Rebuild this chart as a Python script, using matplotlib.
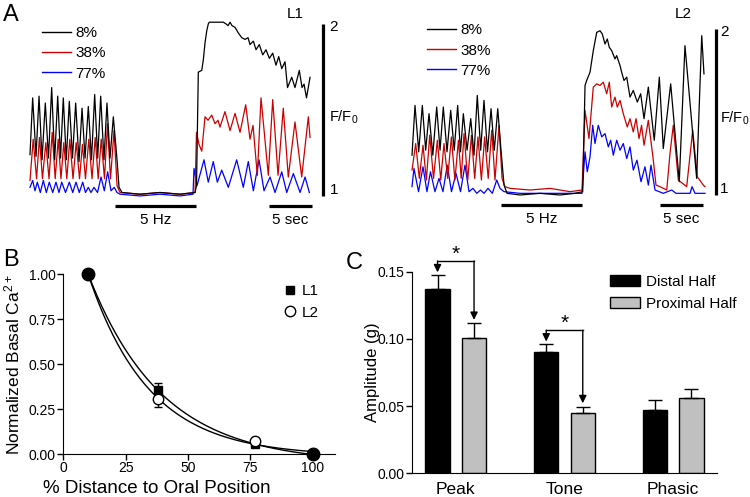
import numpy as np
import matplotlib
matplotlib.use("Agg")
import matplotlib.pyplot as plt
from matplotlib.lines import Line2D

plt.rcParams['font.family'] = ['Liberation Sans', 'DejaVu Sans']
plt.rcParams['mathtext.default'] = 'regular'
plt.rcParams['font.size'] = 10

RED = '#cc0000'
BLUE = '#0000ff'
GRAY = '#c0c0c0'

# --- Panel A: Ca2+ traces (time in s, F/F0) ---
# L1
l1_8_t = [0.00, 0.31, 0.70, 1.05, 1.40, 1.78, 2.15, 2.52, 2.87, 3.22, 3.55, 3.87, 4.22, 4.57, 4.94,
          5.31, 5.70, 6.05, 6.40, 6.78, 7.15, 7.52, 7.87, 8.22, 8.60, 8.95, 9.30, 9.69, 10.12, 10.35,
          10.70, 12.79, 15.12, 17.44, 19.19, 19.36, 19.57, 19.97, 20.15, 20.35, 20.55, 20.73, 20.85,
          22.48, 22.79, 23.02, 23.26, 23.49, 23.84, 24.19, 24.62, 25.00, 25.35, 25.58, 25.97, 26.28,
          26.66, 27.06, 27.44, 27.83, 28.22, 28.60, 28.92, 29.27, 29.65, 29.94, 30.43, 30.81, 31.31,
          31.63, 31.86, 32.15, 32.56]
l1_8_f = [1.24, 1.57, 1.23, 1.58, 1.21, 1.54, 1.22, 1.63, 1.21, 1.58, 1.22, 1.57, 1.21, 1.55, 1.22,
          1.54, 1.20, 1.51, 1.22, 1.52, 1.21, 1.59, 1.22, 1.58, 1.21, 1.54, 1.22, 1.46, 1.21, 1.05,
          1.02, 1.01, 1.02, 1.01, 1.02, 1.06, 1.72, 1.73, 1.79, 1.89, 1.96, 2.00, 2.01,
          2.01, 2.00, 1.99, 2.01, 1.99, 1.98, 1.95, 1.92, 1.91, 1.92, 1.88, 1.90, 1.85,
          1.88, 1.82, 1.85, 1.80, 1.83, 1.76, 1.81, 1.74, 1.78, 1.63, 1.69, 1.63, 1.73,
          1.63, 1.65, 1.57, 1.69]
l1_38_t = [0.00, 0.37, 0.76, 1.10, 1.45, 1.84, 2.21, 2.58, 2.93, 3.28, 3.60, 3.93, 4.28, 4.63, 5.00,
           5.37, 5.76, 6.10, 6.45, 6.84, 7.21, 7.58, 7.93, 8.28, 8.66, 9.01, 9.36, 9.77, 10.12, 10.47,
           12.79, 15.12, 17.44, 19.19, 19.36, 19.65, 19.97, 20.35, 20.70, 21.13, 21.51, 21.86, 22.09,
           22.67, 23.26, 23.84, 24.42, 25.08, 25.58, 25.93, 26.43, 26.86, 27.71, 28.22, 28.84, 29.45,
           30.03, 30.81, 31.59, 32.36, 32.56]
l1_38_f = [1.09, 1.33, 1.10, 1.34, 1.10, 1.31, 1.10, 1.37, 1.10, 1.33, 1.10, 1.31, 1.10, 1.33, 1.10,
           1.31, 1.10, 1.30, 1.10, 1.33, 1.10, 1.34, 1.10, 1.33, 1.10, 1.42, 1.10, 1.38, 1.06, 1.02,
           1.01, 1.02, 1.01, 1.02, 1.37, 1.30, 1.26, 1.46, 1.44, 1.47, 1.42, 1.44, 1.40,
           1.49, 1.38, 1.48, 1.37, 1.53, 1.33, 1.41, 1.12, 1.57, 1.12, 1.56, 1.12, 1.51,
           1.11, 1.43, 1.11, 1.46, 1.34]
l1_77_t = [0.00, 0.31, 0.58, 0.85, 1.20, 1.55, 1.90, 2.24, 2.64, 3.02, 3.37, 3.69, 4.13, 4.57, 4.97,
           5.35, 5.73, 6.13, 6.45, 6.78, 7.09, 7.44, 7.85, 8.26, 8.64, 9.03, 9.42, 9.80, 10.12, 10.47,
           12.79, 15.12, 17.44, 18.95, 19.07, 19.42, 20.23, 20.73, 21.31, 21.78, 22.29, 23.06, 24.03,
           24.80, 25.38, 25.97, 26.63, 27.21, 27.91, 28.49, 29.27, 29.85, 30.62, 31.40, 31.98, 32.48]
l1_77_f = [1.05, 1.09, 1.03, 1.08, 1.02, 1.09, 1.02, 1.08, 1.02, 1.08, 1.02, 1.08, 1.02, 1.08, 1.02,
           1.08, 1.02, 1.08, 1.02, 1.05, 1.02, 1.05, 1.02, 1.11, 1.03, 1.14, 1.03, 1.05, 1.02, 1.01,
           1.00, 1.01, 1.00, 1.01, 1.16, 1.06, 1.21, 1.08, 1.20, 1.08, 1.15, 1.05, 1.21,
           1.05, 1.20, 1.03, 1.21, 1.03, 1.11, 1.02, 1.14, 1.02, 1.13, 1.02, 1.11, 1.02]
# L2
l2_8_t = [0.00, 0.35, 0.78, 1.20, 1.59, 1.98, 2.42, 2.87, 3.26, 3.64, 4.07, 4.50, 4.91, 5.31, 5.64,
          5.97, 6.40, 6.83, 7.21, 7.59, 7.99, 8.37, 8.78, 9.19, 9.57, 9.97, 10.35, 10.70, 11.05, 12.56,
          14.88, 17.21, 18.95, 19.85, 20.12, 20.31, 20.70, 21.08, 21.48, 21.86, 22.13, 22.44, 22.71,
          22.94, 23.22, 23.60, 23.80, 24.19, 24.38, 24.65, 24.97, 25.35, 25.73, 26.20, 26.59, 26.98,
          27.48, 28.17, 28.76, 29.22, 30.08, 31.08, 31.74, 33.10, 33.69, 33.95]
l2_8_f = [1.24, 1.54, 1.26, 1.54, 1.27, 1.49, 1.24, 1.53, 1.27, 1.53, 1.26, 1.51, 1.27, 1.54, 1.26,
          1.49, 1.27, 1.46, 1.24, 1.60, 1.27, 1.57, 1.26, 1.52, 1.27, 1.52, 1.27, 1.06, 1.01, 1.00,
          1.01, 1.00, 1.01, 1.02, 1.66, 1.69, 1.74, 1.87, 1.98, 1.99, 1.97, 1.91, 1.94,
          1.89, 1.87, 1.82, 1.84, 1.78, 1.74, 1.69, 1.71, 1.59, 1.63, 1.56, 1.61, 1.46,
          1.65, 1.33, 1.71, 1.28, 1.67, 1.08, 1.90, 1.10, 1.96, 1.73]
l2_38_t = [0.00, 0.43, 0.85, 1.28, 1.67, 2.06, 2.50, 2.95, 3.34, 3.72, 4.15, 4.58, 4.99, 5.40, 5.72,
           6.05, 6.48, 6.91, 7.29, 7.67, 8.07, 8.45, 8.86, 9.27, 9.65, 10.12, 10.47, 10.81, 11.40, 13.72,
           16.05, 18.37, 19.77, 20.12, 20.58, 21.08, 21.48, 21.86, 22.24, 22.64, 22.94, 23.22, 23.60,
           23.87, 24.19, 24.57, 25.03, 25.35, 25.73, 26.05, 26.40, 26.69, 26.98, 27.48, 28.06, 28.37,
           28.84, 29.62, 30.00, 30.38, 30.97, 31.94, 32.64, 33.17, 33.87, 34.07]
l2_38_f = [1.15, 1.31, 1.10, 1.30, 1.09, 1.36, 1.10, 1.33, 1.09, 1.31, 1.10, 1.35, 1.09, 1.33, 1.10,
           1.37, 1.09, 1.36, 1.10, 1.35, 1.09, 1.35, 1.10, 1.39, 1.09, 1.42, 1.10, 1.05, 1.04, 1.03,
           1.04, 1.02, 1.03, 1.51, 1.34, 1.65, 1.67, 1.66, 1.68, 1.61, 1.68, 1.53, 1.59,
           1.53, 1.57, 1.49, 1.41, 1.46, 1.38, 1.46, 1.34, 1.42, 1.30, 1.45, 1.21, 1.06,
           1.05, 1.03, 1.25, 1.42, 1.09, 1.05, 1.39, 1.11, 1.06, 1.05]
l2_77_t = [0.00, 0.23, 0.76, 1.28, 1.74, 2.15, 2.67, 3.14, 3.60, 4.10, 4.59, 5.12, 5.64, 6.16, 6.63,
           7.09, 7.53, 7.97, 8.37, 8.84, 9.34, 9.85, 10.23, 10.70, 12.56, 14.88, 17.21, 19.77, 20.12,
           20.38, 20.70, 21.01, 21.28, 21.66, 22.06, 22.44, 22.83, 23.10, 23.41, 23.80, 24.19, 24.57,
           24.97, 25.35, 25.73, 26.16, 26.63, 27.09, 27.48, 27.79, 28.26, 29.22, 30.20, 30.70, 32.33,
           32.56, 32.91, 34.07]
l2_77_f = [1.05, 1.16, 1.02, 1.17, 1.02, 1.14, 1.02, 1.10, 1.02, 1.18, 1.02, 1.13, 1.02, 1.18, 1.02,
           1.04, 1.01, 1.03, 1.01, 1.04, 1.01, 1.09, 1.04, 1.02, 1.01, 1.01, 1.01, 1.01, 1.26,
           1.14, 1.23, 1.42, 1.31, 1.42, 1.35, 1.37, 1.29, 1.33, 1.24, 1.33, 1.27, 1.31,
           1.22, 1.29, 1.15, 1.21, 1.08, 1.17, 1.06, 1.18, 1.03, 1.01, 1.03, 1.01, 1.01,
           1.05, 1.01, 1.01]

positions_labels = ['8%', '38%', '77%']
stim_l1 = (9.88, 19.30)   # 5 Hz stimulation (s)
stim_l2 = (10.35, 19.77)

# --- Panel B: normalized basal Ca2+ ---
dist = np.array([10, 38, 77, 100])
b_l1 = np.array([1.00, 0.355, 0.055, 0.0])
b_l1_err = np.array([0.0, 0.042, 0.01, 0.0])
b_l2 = np.array([1.00, 0.305, 0.075, 0.0])
b_l2_err = np.array([0.0, 0.04, 0.015, 0.0])

# --- Panel C: amplitudes ---
cats = ['Peak', 'Tone', 'Phasic']
distal = [0.137, 0.090, 0.047]
distal_err = [0.0105, 0.006, 0.0079]
proximal = [0.101, 0.0446, 0.0558]
proximal_err = [0.0106, 0.005, 0.0067]
signif = [0, 1]


def exp_fit(x, y):
    best = None
    for k in np.linspace(0.005, 0.2, 2000):
        M = np.column_stack([np.exp(-k * x), np.ones_like(x)])
        coef = np.linalg.lstsq(M, y, rcond=None)[0]
        err = np.sum((M @ coef - y) ** 2)
        if best is None or err < best[0]:
            best = (err, k, coef)
    return best[1], best[2]


fig = plt.figure(figsize=(7.5, 4.97), dpi=100)

# ---------- A ----------
def trace_panel(rect, xlim, ylim, traces, stim, bar_t, name, leg_anchor, sec_t, lab_dx):
    ax = fig.add_axes(rect)
    ax.set_xlim(*xlim)
    ax.set_ylim(*ylim)
    ax.axis('off')
    for (t, f), c in reversed(list(zip(traces, ['k', RED, BLUE]))):
        ax.plot(t, f, color=c, lw=0.9, solid_joinstyle='round')
    # scale bar
    ax.plot([bar_t, bar_t], [1, 2], color='k', lw=2.3, solid_capstyle='butt')
    ax.text(bar_t + lab_dx, 1.98, '2', ha='left', va='center', fontsize=11)
    ax.text(bar_t + lab_dx, 1.035, '1', ha='left', va='center', fontsize=11)
    ax.text(bar_t + lab_dx, 1.46, 'F/F$_0$', ha='left', va='center', fontsize=10.5)
    yb = 1 - (ylim[1] - ylim[0]) * 0.045
    ax.plot(stim, [yb, yb], color='k', lw=2.3, solid_capstyle='butt')
    ax.text(np.mean(stim), yb - 0.04, '5 Hz', ha='center', va='top', fontsize=11)
    ax.plot([sec_t, sec_t + 5], [yb, yb], color='k', lw=2.3, solid_capstyle='butt')
    ax.text(sec_t + 2.5, yb - 0.04, '5 sec', ha='center', va='top', fontsize=11)
    ax.text(name[1], name[2], name[0], ha='center', va='center', fontsize=11)
    handles = [Line2D([], [], color=c, lw=1) for c in ['k', RED, BLUE]]
    ax.legend(handles, positions_labels, loc='upper left', bbox_to_anchor=leg_anchor,
              frameon=False, fontsize=11, handlelength=1.9, handletextpad=0.3,
              labelspacing=0.4, borderpad=0, borderaxespad=0)
    return ax

axA1 = trace_panel([25 / 750, 1 - 230 / 497, 340 / 750, 225 / 497], (-0.581, 38.95), (0.802, 2.11),
                   [(l1_8_t, l1_8_f), (l1_38_t, l1_38_f), (l1_77_t, l1_77_f)],
                   stim_l1, 34.07, ('L1', 30.8, 2.06), (0.05, 0.905), 27.79, 0.75)
axA2 = trace_panel([405 / 750, 1 - 230 / 497, 343 / 750, 225 / 497], (-0.814, 39.07), (0.789, 2.145),
                   [(l2_8_t, l2_8_f), (l2_38_t, l2_38_f), (l2_77_t, l2_77_f)],
                   stim_l2, 35.35, ('L2', 31.5, 2.09), (0.064, 0.918), 28.84, 0.45)

# ---------- B ----------
axB = fig.add_axes([63.3 / 750, 1 - 454.3 / 497, 271.7 / 750, 180 / 497])
xs = np.linspace(dist[0], dist[-1], 200)
for y in (b_l1, b_l2):
    k, (A, c) = exp_fit(dist.astype(float), y)
    axB.plot(xs, A * np.exp(-k * xs) + c, color='k', lw=1, zorder=2)
axB.errorbar(dist[1:-1], b_l1[1:-1], yerr=b_l1_err[1:-1], fmt='s', color='k', ms=6,
             capsize=3, elinewidth=1, capthick=1, zorder=4)
axB.errorbar(dist[1:-1], b_l2[1:-1], yerr=b_l2_err[1:-1], fmt='o', color='k', mfc='white',
             ms=7.5, mew=1, capsize=3, elinewidth=1, capthick=1, zorder=5)
axB.plot(dist[[0, -1]], b_l2[[0, -1]], 'o', color='k', ms=9, clip_on=False, zorder=6)
axB.set_xlim(0, 109)
axB.set_ylim(0, 1.0)
axB.set_xticks([0, 25, 50, 75, 100])
axB.set_yticks([0, 0.25, 0.5, 0.75, 1.0])
axB.set_yticklabels(['0.00', '0.25', '0.50', '0.75', '1.00'])
axB.spines[['top', 'right']].set_visible(False)
axB.tick_params(length=4, width=1, labelsize=10)
axB.tick_params(axis='x', pad=1)
axB.tick_params(axis='y', pad=1.5)
axB.set_xlabel('% Distance to Oral Position', fontsize=13.5, va='baseline')
axB.xaxis.set_label_coords(0.345, -0.215)
axB.set_ylabel('Normalized Basal Ca$^{2+}$', fontsize=12.5)
axB.yaxis.set_label_coords(-0.152, 0.5)
axB.legend([Line2D([], [], ls='', marker='s', color='k', ms=6),
            Line2D([], [], ls='', marker='o', color='k', mfc='white', ms=7.5)],
           ['L1', 'L2'], loc='upper left', bbox_to_anchor=(0.805, 0.945), frameon=False,
           fontsize=11, handlelength=1.0, handletextpad=0.3, labelspacing=0.5,
           borderpad=0, borderaxespad=0)

# ---------- C ----------
axC = fig.add_axes([412.3 / 750, 1 - 473.3 / 497, 304.4 / 750, 201.6 / 497])
xc = np.arange(len(cats))
off, w = 0.168, 0.223
axC.bar(xc - off, distal, w, color='k', edgecolor='k', lw=1, label='Distal Half',
        yerr=[np.zeros(3), distal_err], capsize=5, error_kw=dict(elinewidth=1, capthick=1))
axC.bar(xc + off, proximal, w, color=GRAY, edgecolor='k', lw=1, label='Proximal Half',
        yerr=[np.zeros(3), proximal_err], capsize=5, error_kw=dict(elinewidth=1, capthick=1))
axC.set_xlim(-0.4, 2.4)
axC.set_ylim(0, 0.15)
axC.set_yticks([0, 0.05, 0.10, 0.15])
axC.set_yticklabels(['0.00', '0.05', '0.10', '0.15'])
axC.set_xticks(xc)
axC.set_xticklabels(cats, fontsize=12.5)
axC.tick_params(axis='x', length=0, pad=6)
axC.tick_params(axis='y', length=4, width=1, pad=1.5, labelsize=10)
axC.spines[['top', 'right']].set_visible(False)
axC.set_ylabel('Amplitude (g)', fontsize=12)
axC.yaxis.set_label_coords(-0.106, 0.5)
for i in signif:
    tip0 = distal[i] + distal_err[i] + 0.002
    tip1 = proximal[i] + proximal_err[i] + 0.0025
    top = distal[i] + distal_err[i] + 0.0105
    x0, x1 = i - off, i + off
    axC.plot([x0, x1], [top, top], color='k', lw=1, clip_on=False)
    for xx, tp in ((x0, tip0), (x1, tip1)):
        axC.annotate('', xy=(xx, tp), xytext=(xx, top), annotation_clip=False,
                     arrowprops=dict(arrowstyle='-|>,head_length=0.45,head_width=0.22',
                                     color='k', lw=1, shrinkA=0, shrinkB=0))
    axC.text((x0 + x1) / 2, top - 0.002, '*', ha='center', va='bottom', fontsize=15)
axC.legend(loc='upper left', bbox_to_anchor=(610 / 750, 1 - 275 / 497),
           bbox_transform=fig.transFigure, frameon=False, fontsize=11,
           handlelength=1.95, handleheight=0.7, handletextpad=0.4, labelspacing=0.5,
           borderpad=0, borderaxespad=0)

# panel letters
for lab, x, y in (('A', 3, 4), ('B', 3, 249), ('C', 346, 252)):
    fig.text(x / 750, 1 - y / 497, lab, fontsize=17, ha='left', va='top')

fig.savefig('out.png', dpi=100)
